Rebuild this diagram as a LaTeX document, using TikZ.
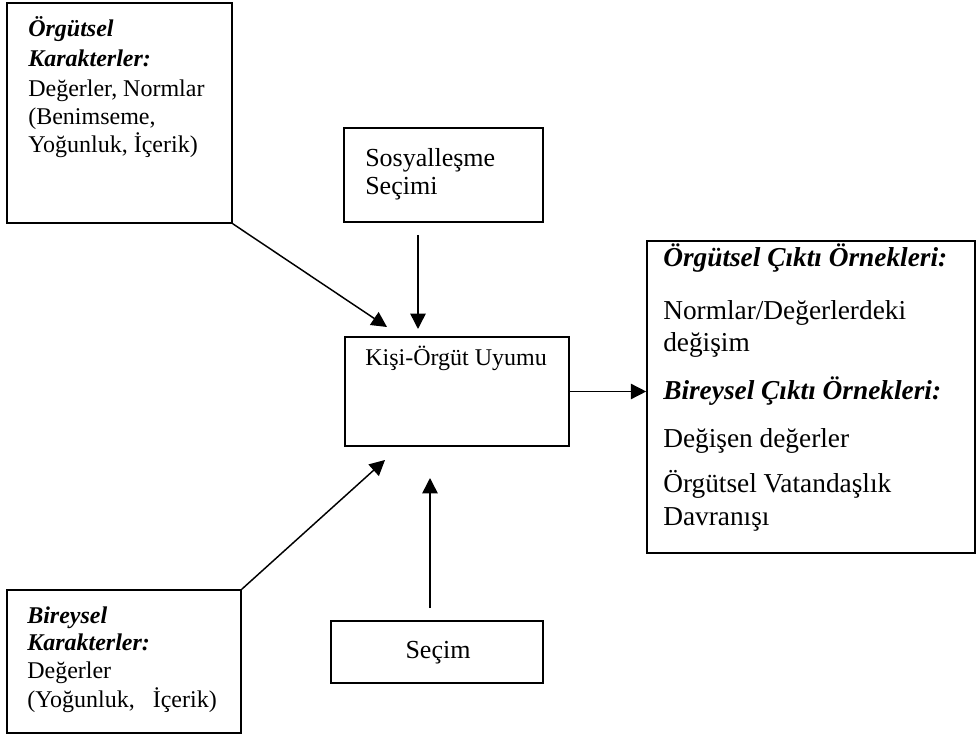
\documentclass[tikz,border=0pt]{standalone}
\usepackage{fontspec}
\setmainfont{Liberation Serif}
\usetikzlibrary{arrows.meta,fit}
\newcommand\fsSmall{\fontsize{18}{21}\selectfont}
\newcommand\fsMid{\fontsize{19.5}{23}\selectfont}
\newcommand\fsBig{\fontsize{20.5}{24}\selectfont}
\begin{document}
\begin{tikzpicture}[x=0.75pt,y=-0.75pt,
  box/.style={draw, line width=1.2pt, inner sep=0pt, fit={#1}},
  arr/.style={line width=1.1pt, -{Triangle[length=11.5pt,width=11.5pt]}},
  txt/.style={anchor=base west, inner sep=0pt},
  bi/.style={txt, font=\bfseries\itshape}]
\useasboundingbox (0,0) rectangle (979,734);

% boxes
\node[box={(7,3) (232,223)}] (org) {};
\node[box={(344,128) (543,222)}] (sos) {};
\node[box={(345,337) (569,446)}] (kisi) {};
\node[box={(647,241) (975,553)}] (cikti) {};
\node[box={(7,590) (241,733)}] (bir) {};
\node[box={(331,621) (543,683)}] (secim) {};

% top-left texts
\node[bi, font=\fsSmall\bfseries\itshape] (o1) at (28,37) {Örgütsel};
\node[bi, font=\fsSmall\bfseries\itshape] (o2) at (28,67) {Karakterler:};
\node[txt, font=\fsSmall] (o3) at (28,97) {Değerler, Normlar};
\node[txt, font=\fsSmall] (o4) at (28,125) {(Benimseme,};
\node[txt, font=\fsSmall] (o5) at (28,153) {Yoğunluk, İçerik)};

% Sosyalleşme
\node[txt, font=\fsMid] (s1) at (365,167) {Sosyalleşme};
\node[txt, font=\fsMid] (s2) at (365,195) {Seçimi};

% Kişi-Örgüt
\node[txt, font=\fsSmall] (k1) at (365,366) {Kişi-Örgüt Uyumu};

% right box
\node[bi, font=\fsBig\bfseries\itshape] (c1) at (663,267) {Örgütsel Çıktı Örnekleri:};
\node[txt, font=\fsBig] (c2) at (663,320) {Normlar/Değerlerdeki};
\node[txt, font=\fsBig] (c3) at (663,352) {değişim};
\node[bi, font=\fsBig\bfseries\itshape] (c4) at (663,400) {Bireysel Çıktı Örnekleri:};
\node[txt, font=\fsBig] (c5) at (663,447) {Değişen değerler};
\node[txt, font=\fsBig] (c6) at (663,493) {Örgütsel Vatandaşlık};
\node[txt, font=\fsBig] (c7) at (663,525) {Davranışı};

% bottom-left
\node[bi, font=\fsSmall\bfseries\itshape] (b1) at (27,623) {Bireysel};
\node[bi, font=\fsSmall\bfseries\itshape] (b2) at (27,650) {Karakterler:};
\node[txt, font=\fsSmall] (b3) at (27,678) {Değerler};
\node[txt, font=\fsSmall] (b4) at (27,707) {(Yoğunluk,\hspace{0.75em}İçerik)};

% Seçim
\node[anchor=base, inner sep=0pt, font=\fsMid] (se1) at (438,658) {Seçim};

% connector ends
\coordinate (t1) at (387,327);
\coordinate (s0) at (418,235);
\coordinate (t2) at (418,329);
\coordinate (t3) at (385,460);
\coordinate (u0) at (430,608);
\coordinate (t4) at (430,478);

% arrows
\draw[arr] (org.south east) -- (t1);
\draw[arr] (s0) -- (t2);
\draw[arr] (kisi.east) -- (kisi.east -| cikti.west);
\draw[arr] (bir.north east) -- (t3);
\draw[arr] (u0) -- (t4);
\end{tikzpicture}
\end{document}
